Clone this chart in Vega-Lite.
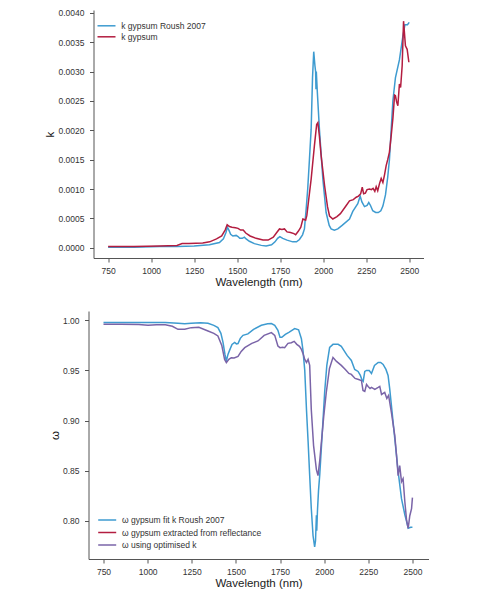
{
  "$schema": "https://vega.github.io/schema/vega-lite/v6.json",
  "background": "white",
  "padding": {"left": 43.5, "top": 8, "right": 0, "bottom": 0},
  "spacing": 22,
  "center": true,
  "resolve": {"scale": {"color": "independent"}, "legend": {"color": "independent"}},
  "config": {
    "font": "Liberation Sans",
    "view": {"stroke": null},
    "axis": {
      "grid": false,
      "domainColor": "#555555",
      "tickColor": "#555555",
      "tickSize": 4,
      "labelFont": "Liberation Sans",
      "labelFontSize": 8.5,
      "labelColor": "#333333",
      "titleFont": "Liberation Sans",
      "titleFontSize": 11.5,
      "titleFontWeight": "normal",
      "titleColor": "#222222"
    },
    "legend": {
      "labelFont": "Liberation Sans",
      "labelFontSize": 8.5,
      "labelColor": "#333333",
      "symbolType": "M-1.8,0H1.8",
      "symbolSize": 100,
      "symbolStrokeWidth": 1.5,
      "padding": 0,
      "rowPadding": 0,
      "labelOffset": 8.7
    }
  },
  "vconcat": [
    {
      "width": 330,
      "height": 248,
      "data": {"values": [
        {"w":750,"k":0.00001,"series":"k gypsum Roush 2007"},
        {"w":900,"k":0.00001,"series":"k gypsum Roush 2007"},
        {"w":1050,"k":0.00002,"series":"k gypsum Roush 2007"},
        {"w":1150,"k":0.00002,"series":"k gypsum Roush 2007"},
        {"w":1250,"k":0.00003,"series":"k gypsum Roush 2007"},
        {"w":1339,"k":0.00005,"series":"k gypsum Roush 2007"},
        {"w":1397,"k":0.00009,"series":"k gypsum Roush 2007"},
        {"w":1420,"k":0.00015,"series":"k gypsum Roush 2007"},
        {"w":1435,"k":0.00026,"series":"k gypsum Roush 2007"},
        {"w":1443,"k":0.00035,"series":"k gypsum Roush 2007"},
        {"w":1452,"k":0.00030,"series":"k gypsum Roush 2007"},
        {"w":1462,"k":0.00023,"series":"k gypsum Roush 2007"},
        {"w":1475,"k":0.00020,"series":"k gypsum Roush 2007"},
        {"w":1494,"k":0.00021,"series":"k gypsum Roush 2007"},
        {"w":1505,"k":0.00019,"series":"k gypsum Roush 2007"},
        {"w":1515,"k":0.00016,"series":"k gypsum Roush 2007"},
        {"w":1530,"k":0.00016,"series":"k gypsum Roush 2007"},
        {"w":1542,"k":0.00018,"series":"k gypsum Roush 2007"},
        {"w":1552,"k":0.00015,"series":"k gypsum Roush 2007"},
        {"w":1571,"k":0.00011,"series":"k gypsum Roush 2007"},
        {"w":1600,"k":0.00007,"series":"k gypsum Roush 2007"},
        {"w":1640,"k":0.00004,"series":"k gypsum Roush 2007"},
        {"w":1668,"k":0.00003,"series":"k gypsum Roush 2007"},
        {"w":1700,"k":0.00005,"series":"k gypsum Roush 2007"},
        {"w":1720,"k":0.00010,"series":"k gypsum Roush 2007"},
        {"w":1735,"k":0.00016,"series":"k gypsum Roush 2007"},
        {"w":1748,"k":0.00019,"series":"k gypsum Roush 2007"},
        {"w":1765,"k":0.00016,"series":"k gypsum Roush 2007"},
        {"w":1790,"k":0.00013,"series":"k gypsum Roush 2007"},
        {"w":1823,"k":0.00010,"series":"k gypsum Roush 2007"},
        {"w":1845,"k":0.00010,"series":"k gypsum Roush 2007"},
        {"w":1862,"k":0.00014,"series":"k gypsum Roush 2007"},
        {"w":1880,"k":0.00022,"series":"k gypsum Roush 2007"},
        {"w":1891,"k":0.00032,"series":"k gypsum Roush 2007"},
        {"w":1901,"k":0.00066,"series":"k gypsum Roush 2007"},
        {"w":1910,"k":0.00100,"series":"k gypsum Roush 2007"},
        {"w":1920,"k":0.00150,"series":"k gypsum Roush 2007"},
        {"w":1930,"k":0.00202,"series":"k gypsum Roush 2007"},
        {"w":1938,"k":0.00290,"series":"k gypsum Roush 2007"},
        {"w":1945,"k":0.00334,"series":"k gypsum Roush 2007"},
        {"w":1952,"k":0.00310,"series":"k gypsum Roush 2007"},
        {"w":1956,"k":0.00300,"series":"k gypsum Roush 2007"},
        {"w":1958,"k":0.00270,"series":"k gypsum Roush 2007"},
        {"w":1960,"k":0.00300,"series":"k gypsum Roush 2007"},
        {"w":1965,"k":0.00270,"series":"k gypsum Roush 2007"},
        {"w":1978,"k":0.00202,"series":"k gypsum Roush 2007"},
        {"w":1998,"k":0.00117,"series":"k gypsum Roush 2007"},
        {"w":2017,"k":0.00060,"series":"k gypsum Roush 2007"},
        {"w":2035,"k":0.00038,"series":"k gypsum Roush 2007"},
        {"w":2046,"k":0.00032,"series":"k gypsum Roush 2007"},
        {"w":2065,"k":0.00030,"series":"k gypsum Roush 2007"},
        {"w":2085,"k":0.00032,"series":"k gypsum Roush 2007"},
        {"w":2110,"k":0.00038,"series":"k gypsum Roush 2007"},
        {"w":2153,"k":0.00049,"series":"k gypsum Roush 2007"},
        {"w":2172,"k":0.00062,"series":"k gypsum Roush 2007"},
        {"w":2201,"k":0.00075,"series":"k gypsum Roush 2007"},
        {"w":2215,"k":0.00088,"series":"k gypsum Roush 2007"},
        {"w":2225,"k":0.00078,"series":"k gypsum Roush 2007"},
        {"w":2240,"k":0.00070,"series":"k gypsum Roush 2007"},
        {"w":2255,"k":0.00072,"series":"k gypsum Roush 2007"},
        {"w":2265,"k":0.00077,"series":"k gypsum Roush 2007"},
        {"w":2275,"k":0.00072,"series":"k gypsum Roush 2007"},
        {"w":2288,"k":0.00063,"series":"k gypsum Roush 2007"},
        {"w":2305,"k":0.00060,"series":"k gypsum Roush 2007"},
        {"w":2320,"k":0.00060,"series":"k gypsum Roush 2007"},
        {"w":2335,"k":0.00063,"series":"k gypsum Roush 2007"},
        {"w":2347,"k":0.00071,"series":"k gypsum Roush 2007"},
        {"w":2362,"k":0.00090,"series":"k gypsum Roush 2007"},
        {"w":2375,"k":0.00120,"series":"k gypsum Roush 2007"},
        {"w":2385,"k":0.00150,"series":"k gypsum Roush 2007"},
        {"w":2395,"k":0.00200,"series":"k gypsum Roush 2007"},
        {"w":2405,"k":0.00250,"series":"k gypsum Roush 2007"},
        {"w":2420,"k":0.00290,"series":"k gypsum Roush 2007"},
        {"w":2443,"k":0.00320,"series":"k gypsum Roush 2007"},
        {"w":2463,"k":0.00360,"series":"k gypsum Roush 2007"},
        {"w":2475,"k":0.00380,"series":"k gypsum Roush 2007"},
        {"w":2490,"k":0.00380,"series":"k gypsum Roush 2007"},
        {"w":2500,"k":0.00384,"series":"k gypsum Roush 2007"},
        {"w":750,"k":0.00002,"series":"k gypsum"},
        {"w":900,"k":0.00002,"series":"k gypsum"},
        {"w":1050,"k":0.00003,"series":"k gypsum"},
        {"w":1150,"k":0.00004,"series":"k gypsum"},
        {"w":1180,"k":0.00007,"series":"k gypsum"},
        {"w":1220,"k":0.00007,"series":"k gypsum"},
        {"w":1300,"k":0.00008,"series":"k gypsum"},
        {"w":1340,"k":0.00010,"series":"k gypsum"},
        {"w":1380,"k":0.00015,"series":"k gypsum"},
        {"w":1410,"k":0.00020,"series":"k gypsum"},
        {"w":1430,"k":0.00030,"series":"k gypsum"},
        {"w":1442,"k":0.00039,"series":"k gypsum"},
        {"w":1455,"k":0.00036,"series":"k gypsum"},
        {"w":1470,"k":0.00035,"series":"k gypsum"},
        {"w":1490,"k":0.00034,"series":"k gypsum"},
        {"w":1505,"k":0.00033,"series":"k gypsum"},
        {"w":1520,"k":0.00030,"series":"k gypsum"},
        {"w":1535,"k":0.00030,"series":"k gypsum"},
        {"w":1550,"k":0.00025,"series":"k gypsum"},
        {"w":1575,"k":0.00020,"series":"k gypsum"},
        {"w":1610,"k":0.00016,"series":"k gypsum"},
        {"w":1650,"k":0.00013,"series":"k gypsum"},
        {"w":1680,"k":0.00013,"series":"k gypsum"},
        {"w":1710,"k":0.00018,"series":"k gypsum"},
        {"w":1730,"k":0.00026,"series":"k gypsum"},
        {"w":1746,"k":0.00032,"series":"k gypsum"},
        {"w":1760,"k":0.00031,"series":"k gypsum"},
        {"w":1775,"k":0.00032,"series":"k gypsum"},
        {"w":1790,"k":0.00027,"series":"k gypsum"},
        {"w":1810,"k":0.00026,"series":"k gypsum"},
        {"w":1830,"k":0.00024,"series":"k gypsum"},
        {"w":1840,"k":0.00022,"series":"k gypsum"},
        {"w":1855,"k":0.00028,"series":"k gypsum"},
        {"w":1870,"k":0.00035,"series":"k gypsum"},
        {"w":1882,"k":0.00049,"series":"k gypsum"},
        {"w":1890,"k":0.00048,"series":"k gypsum"},
        {"w":1898,"k":0.00047,"series":"k gypsum"},
        {"w":1905,"k":0.00055,"series":"k gypsum"},
        {"w":1915,"k":0.00080,"series":"k gypsum"},
        {"w":1930,"k":0.00117,"series":"k gypsum"},
        {"w":1949,"k":0.00174,"series":"k gypsum"},
        {"w":1962,"k":0.00210,"series":"k gypsum"},
        {"w":1969,"k":0.00213,"series":"k gypsum"},
        {"w":1978,"k":0.00190,"series":"k gypsum"},
        {"w":1988,"k":0.00157,"series":"k gypsum"},
        {"w":2008,"k":0.00106,"series":"k gypsum"},
        {"w":2025,"k":0.00070,"series":"k gypsum"},
        {"w":2037,"k":0.00054,"series":"k gypsum"},
        {"w":2056,"k":0.00049,"series":"k gypsum"},
        {"w":2080,"k":0.00053,"series":"k gypsum"},
        {"w":2100,"k":0.00058,"series":"k gypsum"},
        {"w":2134,"k":0.00072,"series":"k gypsum"},
        {"w":2153,"k":0.00080,"series":"k gypsum"},
        {"w":2175,"k":0.00082,"series":"k gypsum"},
        {"w":2192,"k":0.00086,"series":"k gypsum"},
        {"w":2205,"k":0.00088,"series":"k gypsum"},
        {"w":2218,"k":0.00092,"series":"k gypsum"},
        {"w":2227,"k":0.00103,"series":"k gypsum"},
        {"w":2235,"k":0.00092,"series":"k gypsum"},
        {"w":2245,"k":0.00093,"series":"k gypsum"},
        {"w":2255,"k":0.00099,"series":"k gypsum"},
        {"w":2270,"k":0.00100,"series":"k gypsum"},
        {"w":2280,"k":0.00099,"series":"k gypsum"},
        {"w":2290,"k":0.00101,"series":"k gypsum"},
        {"w":2300,"k":0.00096,"series":"k gypsum"},
        {"w":2308,"k":0.00104,"series":"k gypsum"},
        {"w":2317,"k":0.00097,"series":"k gypsum"},
        {"w":2328,"k":0.00110,"series":"k gypsum"},
        {"w":2337,"k":0.00118,"series":"k gypsum"},
        {"w":2347,"k":0.00111,"series":"k gypsum"},
        {"w":2357,"k":0.00125,"series":"k gypsum"},
        {"w":2366,"k":0.00140,"series":"k gypsum"},
        {"w":2375,"k":0.00150,"series":"k gypsum"},
        {"w":2385,"k":0.00163,"series":"k gypsum"},
        {"w":2395,"k":0.00190,"series":"k gypsum"},
        {"w":2405,"k":0.00220,"series":"k gypsum"},
        {"w":2415,"k":0.00260,"series":"k gypsum"},
        {"w":2420,"k":0.00259,"series":"k gypsum"},
        {"w":2427,"k":0.00248,"series":"k gypsum"},
        {"w":2434,"k":0.00242,"series":"k gypsum"},
        {"w":2443,"k":0.00279,"series":"k gypsum"},
        {"w":2450,"k":0.00273,"series":"k gypsum"},
        {"w":2459,"k":0.00310,"series":"k gypsum"},
        {"w":2467,"k":0.00386,"series":"k gypsum"},
        {"w":2478,"k":0.00344,"series":"k gypsum"},
        {"w":2488,"k":0.00338,"series":"k gypsum"},
        {"w":2498,"k":0.00316,"series":"k gypsum"}
      ]},
      "mark": {"type": "line", "strokeWidth": 1.5},
      "encoding": {
        "x": {
          "field": "w", "type": "quantitative",
          "scale": {"domain": [665, 2583], "nice": false, "zero": false},
          "axis": {"values": [750, 1000, 1250, 1500, 1750, 2000, 2250, 2500], "format": "d", "title": "Wavelength (nm)", "labelPadding": 4.4, "titlePadding": 2}
        },
        "y": {
          "field": "k", "type": "quantitative",
          "scale": {"domain": [-0.000175, 0.00405], "nice": false, "zero": false},
          "axis": {"values": [0, 0.0005, 0.001, 0.0015, 0.002, 0.0025, 0.003, 0.0035, 0.004], "format": ".4f", "title": "k", "labelPadding": 5.5, "minExtent": 38.25, "maxExtent": 38.25, "titlePadding": 0}
        },
        "color": {
          "field": "series", "type": "nominal",
          "scale": {"domain": ["k gypsum Roush 2007", "k gypsum"], "range": ["#3e9bd0", "#b31d40"]},
          "legend": {"orient": "none", "legendX": 7, "legendY": 9.8, "title": null, "rowPadding": 0}
        }
      }
    },
    {
      "width": 340,
      "height": 248,
      "data": {"values": [
        {"w":750,"omega":0.9977,"series":"ω gypsum fit k Roush 2007"},
        {"w":850,"omega":0.9978,"series":"ω gypsum fit k Roush 2007"},
        {"w":950,"omega":0.9977,"series":"ω gypsum fit k Roush 2007"},
        {"w":1002,"omega":0.9977,"series":"ω gypsum fit k Roush 2007"},
        {"w":1100,"omega":0.9978,"series":"ω gypsum fit k Roush 2007"},
        {"w":1172,"omega":0.9970,"series":"ω gypsum fit k Roush 2007"},
        {"w":1210,"omega":0.9965,"series":"ω gypsum fit k Roush 2007"},
        {"w":1247,"omega":0.9970,"series":"ω gypsum fit k Roush 2007"},
        {"w":1300,"omega":0.9975,"series":"ω gypsum fit k Roush 2007"},
        {"w":1342,"omega":0.9970,"series":"ω gypsum fit k Roush 2007"},
        {"w":1375,"omega":0.9950,"series":"ω gypsum fit k Roush 2007"},
        {"w":1398,"omega":0.9927,"series":"ω gypsum fit k Roush 2007"},
        {"w":1415,"omega":0.9870,"series":"ω gypsum fit k Roush 2007"},
        {"w":1427,"omega":0.9780,"series":"ω gypsum fit k Roush 2007"},
        {"w":1438,"omega":0.9660,"series":"ω gypsum fit k Roush 2007"},
        {"w":1446,"omega":0.9594,"series":"ω gypsum fit k Roush 2007"},
        {"w":1455,"omega":0.9660,"series":"ω gypsum fit k Roush 2007"},
        {"w":1464,"omega":0.9700,"series":"ω gypsum fit k Roush 2007"},
        {"w":1478,"omega":0.9760,"series":"ω gypsum fit k Roush 2007"},
        {"w":1493,"omega":0.9780,"series":"ω gypsum fit k Roush 2007"},
        {"w":1503,"omega":0.9765,"series":"ω gypsum fit k Roush 2007"},
        {"w":1512,"omega":0.9767,"series":"ω gypsum fit k Roush 2007"},
        {"w":1525,"omega":0.9820,"series":"ω gypsum fit k Roush 2007"},
        {"w":1540,"omega":0.9850,"series":"ω gypsum fit k Roush 2007"},
        {"w":1568,"omega":0.9865,"series":"ω gypsum fit k Roush 2007"},
        {"w":1600,"omega":0.9910,"series":"ω gypsum fit k Roush 2007"},
        {"w":1644,"omega":0.9950,"series":"ω gypsum fit k Roush 2007"},
        {"w":1680,"omega":0.9966,"series":"ω gypsum fit k Roush 2007"},
        {"w":1701,"omega":0.9967,"series":"ω gypsum fit k Roush 2007"},
        {"w":1720,"omega":0.9950,"series":"ω gypsum fit k Roush 2007"},
        {"w":1738,"omega":0.9900,"series":"ω gypsum fit k Roush 2007"},
        {"w":1750,"omega":0.9830,"series":"ω gypsum fit k Roush 2007"},
        {"w":1760,"omega":0.9830,"series":"ω gypsum fit k Roush 2007"},
        {"w":1780,"omega":0.9860,"series":"ω gypsum fit k Roush 2007"},
        {"w":1800,"omega":0.9880,"series":"ω gypsum fit k Roush 2007"},
        {"w":1833,"omega":0.9917,"series":"ω gypsum fit k Roush 2007"},
        {"w":1855,"omega":0.9905,"series":"ω gypsum fit k Roush 2007"},
        {"w":1871,"omega":0.9817,"series":"ω gypsum fit k Roush 2007"},
        {"w":1880,"omega":0.9700,"series":"ω gypsum fit k Roush 2007"},
        {"w":1890,"omega":0.9500,"series":"ω gypsum fit k Roush 2007"},
        {"w":1900,"omega":0.9100,"series":"ω gypsum fit k Roush 2007"},
        {"w":1909,"omega":0.8790,"series":"ω gypsum fit k Roush 2007"},
        {"w":1918,"omega":0.8450,"series":"ω gypsum fit k Roush 2007"},
        {"w":1927,"omega":0.8125,"series":"ω gypsum fit k Roush 2007"},
        {"w":1937,"omega":0.7850,"series":"ω gypsum fit k Roush 2007"},
        {"w":1946,"omega":0.7740,"series":"ω gypsum fit k Roush 2007"},
        {"w":1951,"omega":0.7800,"series":"ω gypsum fit k Roush 2007"},
        {"w":1956,"omega":0.8055,"series":"ω gypsum fit k Roush 2007"},
        {"w":1958,"omega":0.7900,"series":"ω gypsum fit k Roush 2007"},
        {"w":1962,"omega":0.8100,"series":"ω gypsum fit k Roush 2007"},
        {"w":1968,"omega":0.8300,"series":"ω gypsum fit k Roush 2007"},
        {"w":1975,"omega":0.8460,"series":"ω gypsum fit k Roush 2007"},
        {"w":1990,"omega":0.8900,"series":"ω gypsum fit k Roush 2007"},
        {"w":2003,"omega":0.9290,"series":"ω gypsum fit k Roush 2007"},
        {"w":2015,"omega":0.9550,"series":"ω gypsum fit k Roush 2007"},
        {"w":2031,"omega":0.9730,"series":"ω gypsum fit k Roush 2007"},
        {"w":2050,"omega":0.9760,"series":"ω gypsum fit k Roush 2007"},
        {"w":2079,"omega":0.9760,"series":"ω gypsum fit k Roush 2007"},
        {"w":2097,"omega":0.9740,"series":"ω gypsum fit k Roush 2007"},
        {"w":2130,"omega":0.9650,"series":"ω gypsum fit k Roush 2007"},
        {"w":2154,"omega":0.9600,"series":"ω gypsum fit k Roush 2007"},
        {"w":2173,"omega":0.9510,"series":"ω gypsum fit k Roush 2007"},
        {"w":2192,"omega":0.9490,"series":"ω gypsum fit k Roush 2007"},
        {"w":2205,"omega":0.9450,"series":"ω gypsum fit k Roush 2007"},
        {"w":2215,"omega":0.9400,"series":"ω gypsum fit k Roush 2007"},
        {"w":2221,"omega":0.9390,"series":"ω gypsum fit k Roush 2007"},
        {"w":2230,"omega":0.9490,"series":"ω gypsum fit k Roush 2007"},
        {"w":2240,"omega":0.9500,"series":"ω gypsum fit k Roush 2007"},
        {"w":2255,"omega":0.9500,"series":"ω gypsum fit k Roush 2007"},
        {"w":2268,"omega":0.9470,"series":"ω gypsum fit k Roush 2007"},
        {"w":2285,"omega":0.9550,"series":"ω gypsum fit k Roush 2007"},
        {"w":2306,"omega":0.9580,"series":"ω gypsum fit k Roush 2007"},
        {"w":2320,"omega":0.9580,"series":"ω gypsum fit k Roush 2007"},
        {"w":2334,"omega":0.9560,"series":"ω gypsum fit k Roush 2007"},
        {"w":2350,"omega":0.9510,"series":"ω gypsum fit k Roush 2007"},
        {"w":2362,"omega":0.9450,"series":"ω gypsum fit k Roush 2007"},
        {"w":2371,"omega":0.9320,"series":"ω gypsum fit k Roush 2007"},
        {"w":2381,"omega":0.9150,"series":"ω gypsum fit k Roush 2007"},
        {"w":2400,"omega":0.8820,"series":"ω gypsum fit k Roush 2007"},
        {"w":2419,"omega":0.8490,"series":"ω gypsum fit k Roush 2007"},
        {"w":2438,"omega":0.8220,"series":"ω gypsum fit k Roush 2007"},
        {"w":2457,"omega":0.8060,"series":"ω gypsum fit k Roush 2007"},
        {"w":2466,"omega":0.8000,"series":"ω gypsum fit k Roush 2007"},
        {"w":2476,"omega":0.7925,"series":"ω gypsum fit k Roush 2007"},
        {"w":2490,"omega":0.7935,"series":"ω gypsum fit k Roush 2007"},
        {"w":2500,"omega":0.7935,"series":"ω gypsum fit k Roush 2007"},
        {"w":750,"omega":0.9961,"series":"ω using optimised k"},
        {"w":850,"omega":0.9962,"series":"ω using optimised k"},
        {"w":950,"omega":0.9958,"series":"ω using optimised k"},
        {"w":1002,"omega":0.9950,"series":"ω using optimised k"},
        {"w":1050,"omega":0.9955,"series":"ω using optimised k"},
        {"w":1100,"omega":0.9955,"series":"ω using optimised k"},
        {"w":1140,"omega":0.9940,"series":"ω using optimised k"},
        {"w":1172,"omega":0.9910,"series":"ω using optimised k"},
        {"w":1210,"omega":0.9910,"series":"ω using optimised k"},
        {"w":1247,"omega":0.9927,"series":"ω using optimised k"},
        {"w":1290,"omega":0.9930,"series":"ω using optimised k"},
        {"w":1342,"omega":0.9894,"series":"ω using optimised k"},
        {"w":1375,"omega":0.9870,"series":"ω using optimised k"},
        {"w":1398,"omega":0.9844,"series":"ω using optimised k"},
        {"w":1420,"omega":0.9750,"series":"ω using optimised k"},
        {"w":1436,"omega":0.9610,"series":"ω using optimised k"},
        {"w":1446,"omega":0.9578,"series":"ω using optimised k"},
        {"w":1460,"omega":0.9610,"series":"ω using optimised k"},
        {"w":1474,"omega":0.9627,"series":"ω using optimised k"},
        {"w":1490,"omega":0.9625,"series":"ω using optimised k"},
        {"w":1512,"omega":0.9640,"series":"ω using optimised k"},
        {"w":1530,"omega":0.9690,"series":"ω using optimised k"},
        {"w":1550,"omega":0.9727,"series":"ω using optimised k"},
        {"w":1590,"omega":0.9770,"series":"ω using optimised k"},
        {"w":1625,"omega":0.9794,"series":"ω using optimised k"},
        {"w":1660,"omega":0.9850,"series":"ω using optimised k"},
        {"w":1701,"omega":0.9877,"series":"ω using optimised k"},
        {"w":1720,"omega":0.9850,"series":"ω using optimised k"},
        {"w":1738,"omega":0.9744,"series":"ω using optimised k"},
        {"w":1750,"omega":0.9727,"series":"ω using optimised k"},
        {"w":1765,"omega":0.9730,"series":"ω using optimised k"},
        {"w":1776,"omega":0.9727,"series":"ω using optimised k"},
        {"w":1795,"omega":0.9770,"series":"ω using optimised k"},
        {"w":1814,"omega":0.9777,"series":"ω using optimised k"},
        {"w":1830,"omega":0.9790,"series":"ω using optimised k"},
        {"w":1845,"omega":0.9760,"series":"ω using optimised k"},
        {"w":1860,"omega":0.9740,"series":"ω using optimised k"},
        {"w":1871,"omega":0.9710,"series":"ω using optimised k"},
        {"w":1880,"omega":0.9670,"series":"ω using optimised k"},
        {"w":1890,"omega":0.9610,"series":"ω using optimised k"},
        {"w":1900,"omega":0.9580,"series":"ω using optimised k"},
        {"w":1909,"omega":0.9610,"series":"ω using optimised k"},
        {"w":1918,"omega":0.9550,"series":"ω using optimised k"},
        {"w":1927,"omega":0.9110,"series":"ω using optimised k"},
        {"w":1940,"omega":0.8750,"series":"ω using optimised k"},
        {"w":1956,"omega":0.8510,"series":"ω using optimised k"},
        {"w":1965,"omega":0.8450,"series":"ω using optimised k"},
        {"w":1975,"omega":0.8600,"series":"ω using optimised k"},
        {"w":1984,"omega":0.8780,"series":"ω using optimised k"},
        {"w":1998,"omega":0.9050,"series":"ω using optimised k"},
        {"w":2012,"omega":0.9280,"series":"ω using optimised k"},
        {"w":2030,"omega":0.9520,"series":"ω using optimised k"},
        {"w":2050,"omega":0.9630,"series":"ω using optimised k"},
        {"w":2070,"omega":0.9590,"series":"ω using optimised k"},
        {"w":2097,"omega":0.9550,"series":"ω using optimised k"},
        {"w":2120,"omega":0.9510,"series":"ω using optimised k"},
        {"w":2140,"omega":0.9470,"series":"ω using optimised k"},
        {"w":2154,"omega":0.9460,"series":"ω using optimised k"},
        {"w":2175,"omega":0.9420,"series":"ω using optimised k"},
        {"w":2195,"omega":0.9410,"series":"ω using optimised k"},
        {"w":2211,"omega":0.9400,"series":"ω using optimised k"},
        {"w":2220,"omega":0.9300,"series":"ω using optimised k"},
        {"w":2230,"omega":0.9290,"series":"ω using optimised k"},
        {"w":2240,"omega":0.9360,"series":"ω using optimised k"},
        {"w":2249,"omega":0.9340,"series":"ω using optimised k"},
        {"w":2260,"omega":0.9320,"series":"ω using optimised k"},
        {"w":2268,"omega":0.9330,"series":"ω using optimised k"},
        {"w":2287,"omega":0.9310,"series":"ω using optimised k"},
        {"w":2306,"omega":0.9330,"series":"ω using optimised k"},
        {"w":2315,"omega":0.9340,"series":"ω using optimised k"},
        {"w":2325,"omega":0.9260,"series":"ω using optimised k"},
        {"w":2343,"omega":0.9280,"series":"ω using optimised k"},
        {"w":2355,"omega":0.9220,"series":"ω using optimised k"},
        {"w":2365,"omega":0.9250,"series":"ω using optimised k"},
        {"w":2381,"omega":0.9080,"series":"ω using optimised k"},
        {"w":2400,"omega":0.8850,"series":"ω using optimised k"},
        {"w":2410,"omega":0.8650,"series":"ω using optimised k"},
        {"w":2419,"omega":0.8450,"series":"ω using optimised k"},
        {"w":2428,"omega":0.8550,"series":"ω using optimised k"},
        {"w":2438,"omega":0.8390,"series":"ω using optimised k"},
        {"w":2447,"omega":0.8420,"series":"ω using optimised k"},
        {"w":2457,"omega":0.8190,"series":"ω using optimised k"},
        {"w":2467,"omega":0.8000,"series":"ω using optimised k"},
        {"w":2476,"omega":0.7925,"series":"ω using optimised k"},
        {"w":2485,"omega":0.8050,"series":"ω using optimised k"},
        {"w":2495,"omega":0.8120,"series":"ω using optimised k"},
        {"w":2500,"omega":0.8230,"series":"ω using optimised k"}
      ]},
      "mark": {"type": "line", "strokeWidth": 1.5},
      "encoding": {
        "x": {
          "field": "w", "type": "quantitative",
          "scale": {"domain": [665, 2591], "nice": false, "zero": false},
          "axis": {"values": [750, 1000, 1250, 1500, 1750, 2000, 2250, 2500], "format": "d", "title": "Wavelength (nm)", "labelPadding": 4.4, "titlePadding": 2}
        },
        "y": {
          "field": "omega", "type": "quantitative",
          "scale": {"domain": [0.7618, 1.0093], "nice": false, "zero": false},
          "axis": {"values": [0.8, 0.85, 0.9, 0.95, 1.0], "format": ".2f", "title": "ω", "labelPadding": 5.5, "minExtent": 28.25, "maxExtent": 28.25, "titlePadding": 0}
        },
        "color": {
          "field": "series", "type": "nominal",
          "scale": {"domain": ["ω gypsum fit k Roush 2007", "ω gypsum extracted from reflectance", "ω using optimised k"], "range": ["#3e9bd0", "#b31d40", "#7a64a8"]},
          "legend": {"orient": "none", "legendX": 12.7, "legendY": 203, "title": null, "rowPadding": 1.5}
        }
      }
    }
  ]
}
